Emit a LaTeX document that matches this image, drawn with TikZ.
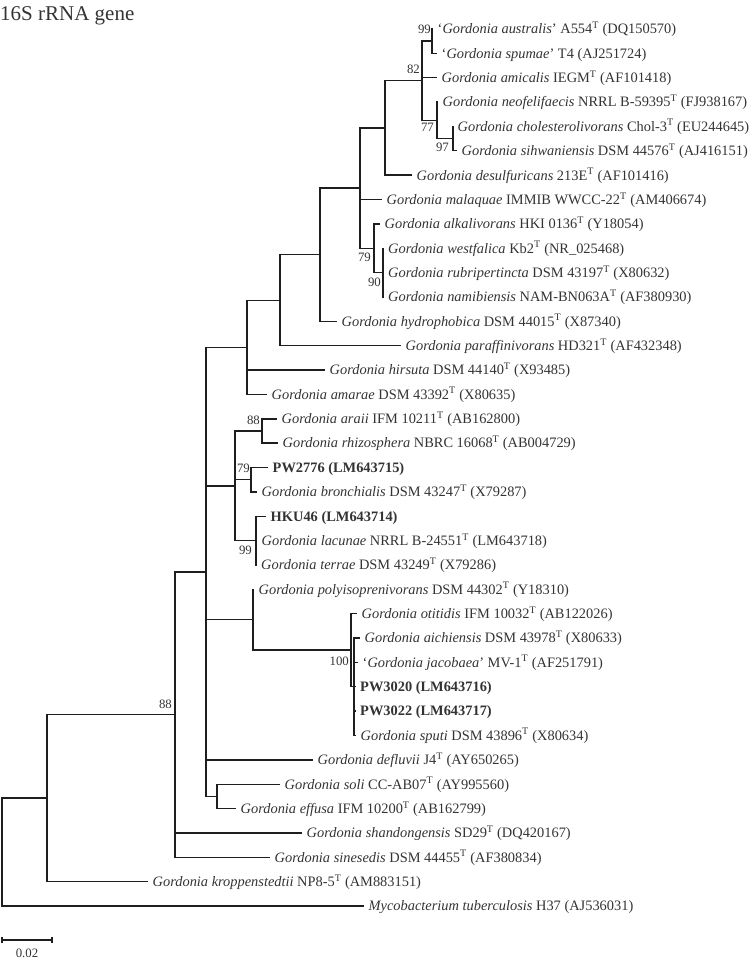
\documentclass[tikz,border=0pt]{standalone}
\usepackage{fontspec}
\setmainfont{Liberation Serif}
\definecolor{linec}{HTML}{1E1E1E}
\definecolor{textc}{HTML}{333333}
\newcommand\labfont{\fontsize{14.4pt}{17pt}\selectfont}
\newcommand\bsfont{\fontsize{12.8pt}{15pt}\selectfont}
\newcommand\titlefont{\fontsize{21pt}{25pt}\selectfont}
\newcommand\typT{\textsuperscript{T}}
\tikzset{
  br/.style={line width=1.4pt, draw=linec},
  lab/.style={anchor=base west, inner sep=0pt, text=textc, font=\labfont},
  bs/.style={anchor=east, inner sep=0pt, text=textc, font=\bsfont},
}
% #1 name, #2 parent, #3 tip x, #4 y, #5 text
\newcommand\leaf[5]{%
  \coordinate (t#1) at (#3,#4);
  \draw[br] (#2) |- (t#1);
  \node[lab] (l#1) at ([xshift=4.5pt,yshift=-4.8pt]t#1) {#5};}
\begin{document}
\begin{tikzpicture}[x=1pt,y=-1pt]
\useasboundingbox (0,0) rectangle (750,960);
\node[anchor=base west, inner sep=0pt, text=textc, font=\titlefont] (title) at (0,21) {16S rRNA gene};
% internal nodes
\coordinate (root) at (2,852);
\coordinate (nK) at (47,798.05);
\coordinate (nA) at (175,714.5);
\coordinate (nS) at (206,571.8);
\coordinate (nT) at (247,347.3);
\coordinate (nU) at (280,300.2);
\coordinate (nV) at (320,254.7);
\coordinate (nY) at (360,188.1);
\coordinate (nX) at (385,128.0);
\coordinate (n82) at (422,80.8);
\coordinate (n99) at (432,41.2);
\coordinate (n77) at (437,120.35);
\coordinate (n97) at (453,138.6);
\coordinate (nZ) at (374,248.2);
\coordinate (nW) at (383,272.55);
\coordinate (nR) at (235,485.8);
\coordinate (n88b) at (262,431.0);
\coordinate (n79) at (251,479.65);
\coordinate (n99c) at (256,540.55);
\coordinate (nQ) at (253,619.7);
\coordinate (nP) at (351,650.15);
\coordinate (nO) at (354,686.7);
\coordinate (nN) at (217,796.35);
% internal edges
\draw[br] (root) |- (nK);
\draw[br] (nK) |- (nA);
\draw[br] (nA) |- (nS);
\draw[br] (nS) |- (nT);
\draw[br] (nT) |- (nU);
\draw[br] (nU) |- (nV);
\draw[br] (nV) |- (nY);
\draw[br] (nY) |- (nX);
\draw[br] (nX) |- (n82);
\draw[br] (n82) |- (n99);
\draw[br] (n82) |- (n77);
\draw[br] (n77) |- (n97);
\draw[br] (nY) |- (nZ);
\draw[br] (nZ) |- (nW);
\draw[br] (nS) |- (nR);
\draw[br] (nR) |- (n88b);
\draw[br] (nR) |- (n79);
\draw[br] (nR) |- (n99c);
\draw[br] (nS) |- (nQ);
\draw[br] (nQ) |- (nP);
\draw[br] (nP) |- (nO);
\draw[br] (nS) |- (nN);
% leaves
\leaf{1}{n99}{433}{29.0}{‘\textit{Gordonia australis}’ A554\typT{} (DQ150570)}
\leaf{2}{n99}{437}{53.4}{‘\textit{Gordonia spumae}’ T4 (AJ251724)}
\leaf{3}{n82}{437}{77.7}{\textit{Gordonia amicalis} IEGM\typT{} (AF101418)}
\leaf{4}{n77}{438}{102.1}{\textit{Gordonia neofelifaecis} NRRL B-59395\typT{} (FJ938167)}
\leaf{5}{n97}{453}{126.4}{\textit{Gordonia cholesterolivorans} Chol-3\typT{} (EU244645)}
\leaf{6}{n97}{457}{150.8}{\textit{Gordonia sihwaniensis} DSM 44576\typT{} (AJ416151)}
\leaf{7}{nX}{412}{175.2}{\textit{Gordonia desulfuricans} 213E\typT{} (AF101416)}
\leaf{8}{nY}{382}{199.5}{\textit{Gordonia malaquae} IMMIB WWCC-22\typT{} (AM406674)}
\leaf{9}{nZ}{380}{223.9}{\textit{Gordonia alkalivorans} HKI 0136\typT{} (Y18054)}
\leaf{10}{nW}{383.5}{248.2}{\textit{Gordonia westfalica} Kb2\typT{} (NR\_025468)}
\leaf{11}{nW}{383.5}{272.6}{\textit{Gordonia rubripertincta} DSM 43197\typT{} (X80632)}
\leaf{12}{nW}{383.5}{296.9}{\textit{Gordonia namibiensis} NAM-BN063A\typT{} (AF380930)}
\leaf{13}{nV}{337}{321.3}{\textit{Gordonia hydrophobica} DSM 44015\typT{} (X87340)}
\leaf{14}{nU}{401}{345.7}{\textit{Gordonia paraffinivorans} HD321\typT{} (AF432348)}
\leaf{15}{nT}{325}{370.0}{\textit{Gordonia hirsuta} DSM 44140\typT{} (X93485)}
\leaf{16}{nT}{267}{394.4}{\textit{Gordonia amarae} DSM 43392\typT{} (X80635)}
\leaf{17}{n88b}{277}{418.8}{\textit{Gordonia araii} IFM 10211\typT{} (AB162800)}
\leaf{18}{n88b}{278}{443.1}{\textit{Gordonia rhizosphera} NBRC 16068\typT{} (AB004729)}
\leaf{19}{n79}{268}{467.5}{\textbf{PW2776 (LM643715)}}
\leaf{20}{n79}{257}{491.8}{\textit{Gordonia bronchialis} DSM 43247\typT{} (X79287)}
\leaf{21}{n99c}{266}{516.2}{\textbf{HKU46 (LM643714)}}
\leaf{22}{n99c}{257}{540.6}{\textit{Gordonia lacunae} NRRL B-24551\typT{} (LM643718)}
\leaf{23}{n99c}{256.5}{564.9}{\textit{Gordonia terrae} DSM 43249\typT{} (X79286)}
\leaf{24}{nQ}{254}{589.3}{\textit{Gordonia polyisoprenivorans} DSM 44302\typT{} (Y18310)}
\leaf{25}{nP}{357}{613.6}{\textit{Gordonia otitidis} IFM 10032\typT{} (AB122026)}
\leaf{26}{nO}{360}{638.0}{\textit{Gordonia aichiensis} DSM 43978\typT{} (X80633)}
\leaf{27}{nO}{358}{662.4}{‘\textit{Gordonia jacobaea}’ MV-1\typT{} (AF251791)}
\leaf{28}{nO}{355.5}{686.7}{\textbf{PW3020 (LM643716)}}
\leaf{29}{nO}{355.5}{711.1}{\textbf{PW3022 (LM643717)}}
\leaf{30}{nO}{356}{735.4}{\textit{Gordonia sputi} DSM 43896\typT{} (X80634)}
\leaf{31}{nS}{313}{759.8}{\textit{Gordonia defluvii} J4\typT{} (AY650265)}
\leaf{32}{nN}{280}{784.2}{\textit{Gordonia soli} CC-AB07\typT{} (AY995560)}
\leaf{33}{nN}{236}{808.5}{\textit{Gordonia effusa} IFM 10200\typT{} (AB162799)}
\leaf{34}{nA}{302}{832.9}{\textit{Gordonia shandongensis} SD29\typT{} (DQ420167)}
\leaf{35}{nA}{270}{857.2}{\textit{Gordonia sinesedis} DSM 44455\typT{} (AF380834)}
\leaf{36}{nK}{148}{881.6}{\textit{Gordonia kroppenstedtii} NP8-5\typT{} (AM883151)}
\leaf{37}{root}{364}{905.9}{\textit{Mycobacterium tuberculosis} H37 (AJ536031)}
% bootstrap values
\node[bs] (b1) at (431,29) {99};
\node[bs] (b2) at (420,69.5) {82};
\node[bs] (b3) at (434,127.5) {77};
\node[bs] (b4) at (449,147.5) {97};
\node[bs] (b5) at (371,257) {79};
\node[bs] (b6) at (381,282) {90};
\node[bs] (b7) at (260,420) {88};
\node[bs] (b8) at (250,468) {79};
\node[bs] (b9) at (252,550) {99};
\node[bs] (b10) at (349,661.5) {100};
\node[bs] (b11) at (172,704.5) {88};
% scale bar
\coordinate (sb1) at (2,940);
\coordinate (sb2) at (52,940);
\draw[br] (sb1) -- (sb2);
\draw[br] ([yshift=3.3pt]sb1) -- ([yshift=-3.3pt]sb1);
\draw[br] ([yshift=3.3pt]sb2) -- ([yshift=-3.3pt]sb2);
\node[anchor=base, inner sep=0pt, text=textc, font=\bsfont] (sbl) at (27,957) {0.02};
\end{tikzpicture}
\end{document}
